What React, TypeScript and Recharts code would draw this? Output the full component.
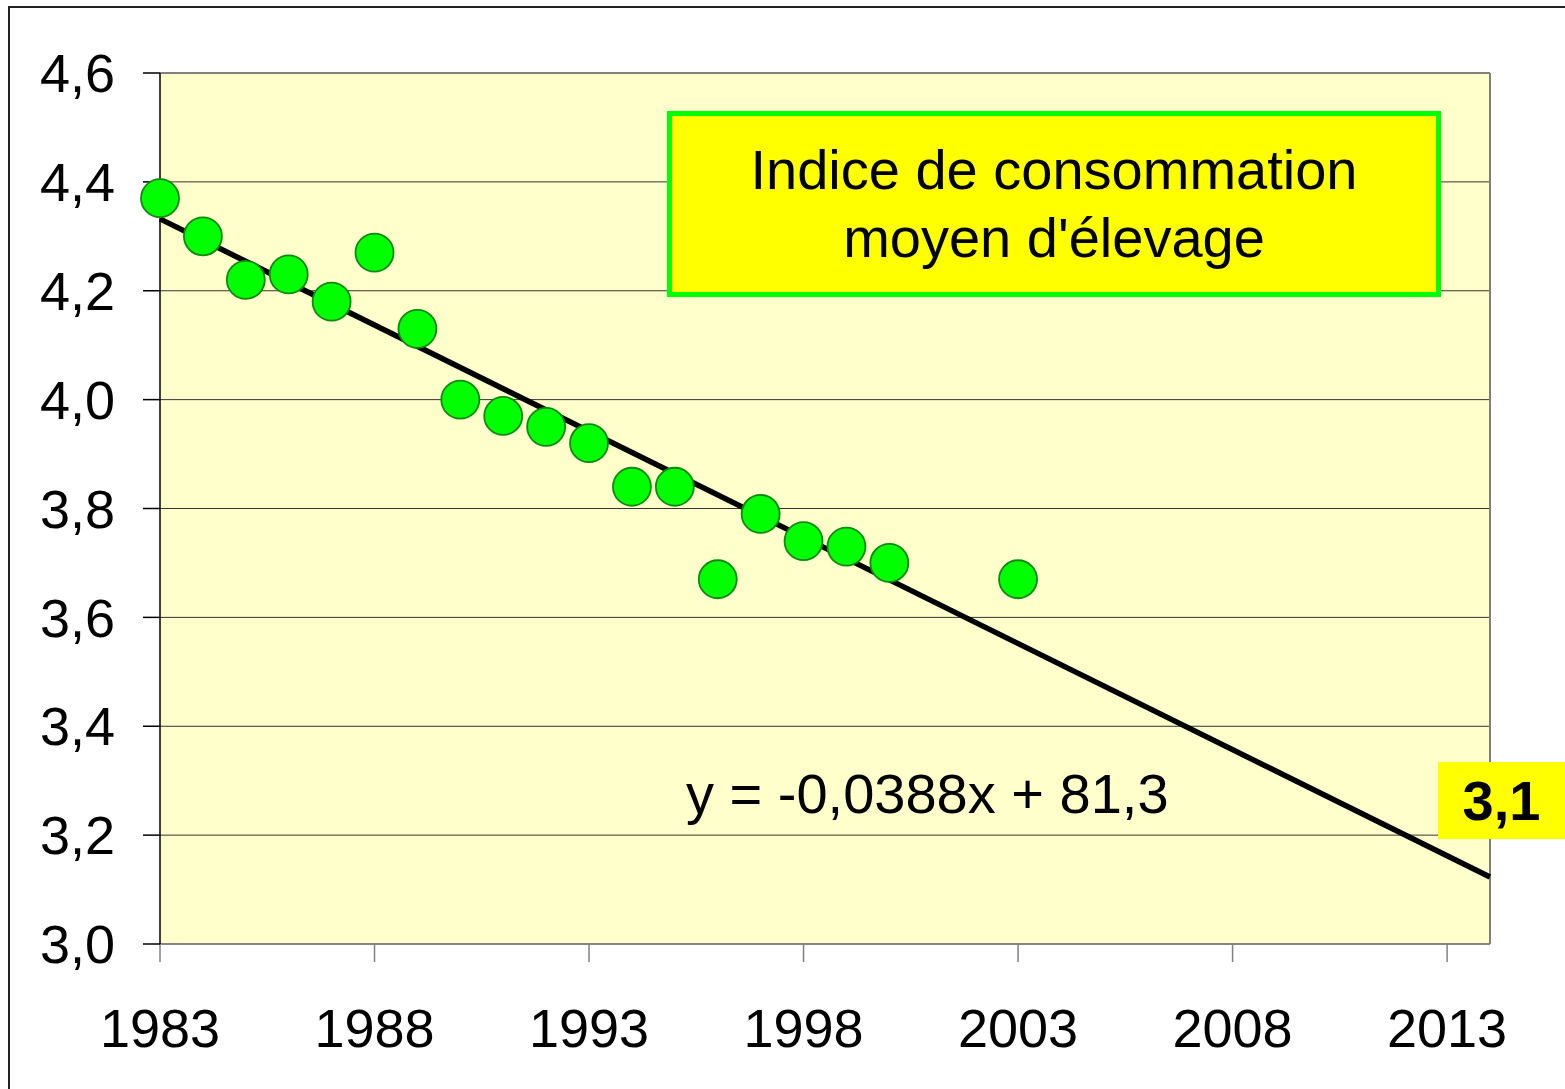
import React from 'react';
import { ComposedChart, Scatter, Line, XAxis, YAxis, CartesianGrid, ReferenceLine } from 'recharts';

// Observed yearly values
const years = [1983, 1984, 1985, 1986, 1987, 1988, 1989, 1990, 1991, 1992, 1993, 1994, 1995, 1996, 1997, 1998, 1999, 2000, 2003];
const values = [4.37, 4.3, 4.22, 4.23, 4.18, 4.27, 4.13, 4.0, 3.97, 3.95, 3.92, 3.84, 3.84, 3.67, 3.79, 3.74, 3.73, 3.7, 3.67];

// Linear trend end points (as drawn)
const trendYears = [1983, 2014];
const trendValues = [4.332, 3.123];

const xTicks = [1983, 1988, 1993, 1998, 2003, 2008, 2013];
const yTicks = [3.0, 3.2, 3.4, 3.6, 3.8, 4.0, 4.2, 4.4, 4.6];

const titleLines = ['Indice de consommation', "moyen d'élevage"];
const equationLabel = 'y = -0,0388x + 81,3';
const endLabel = '3,1';

const FONT = '"Liberation Sans", Arial, sans-serif';

const points = years.map((year, i) => ({ year, value: values[i] }));
const trend = trendYears.map((year, i) => ({ year, value: trendValues[i] }));

const fmt = (v: number) => v.toFixed(1).replace('.', ',');

const Dot = (props: any) => {
  const { cx, cy } = props;
  if (cx == null || cy == null) return null;
  return <circle cx={cx} cy={cy} r={19} fill="#00FF00" stroke="#118811" strokeWidth={1.8} />;
};

export default function App() {
  return (
    <div style={{ position: 'relative', width: 1565, height: 1089, fontFamily: FONT, overflow: 'hidden', background: '#fff' }}>
      <style>{`body{margin:0}`}</style>
      {/* outer frame */}
      <div
        style={{
          position: 'absolute',
          left: 8,
          top: 6,
          width: 1600,
          height: 1200,
          borderTop: '2px solid #222',
          borderLeft: '2px solid #222',
        }}
      />
      <ComposedChart
        width={1565}
        height={1089}
        margin={{ top: 73, right: 75, left: 0, bottom: 0 }}
        style={{ position: 'absolute', left: 0, top: 0 }}
      >
        <CartesianGrid vertical={false} fill="#FFFFCC" stroke="#333" strokeWidth={1} />
        <XAxis
          type="number"
          dataKey="year"
          domain={[1983, 2014]}
          ticks={xTicks}
          interval={0}
          height={145}
          tickSize={18}
          tickMargin={47}
          stroke="#808080"
          strokeWidth={1.5}
          tick={{ fontSize: 54, fill: '#000', fontFamily: FONT }}
        />
        <YAxis
          type="number"
          dataKey="value"
          domain={[3.0, 4.6]}
          ticks={yTicks}
          interval={0}
          width={160}
          tickSize={17}
          tickMargin={28}
          stroke="#000"
          strokeWidth={1.5}
          tickFormatter={fmt}
          tick={{ fontSize: 54, fill: '#000', fontFamily: FONT }}
        />
        <ReferenceLine x={2014} stroke="#808080" strokeWidth={2} />
        <ReferenceLine y={4.6} stroke="#808080" strokeWidth={2} />
        <Scatter data={points} dataKey="value" shape={<Dot />} isAnimationActive={false} />
        <Line
          data={trend}
          dataKey="value"
          type="linear"
          stroke="#000"
          strokeWidth={5.5}
          dot={false}
          activeDot={false}
          isAnimationActive={false}
        />
      </ComposedChart>

      {/* title box */}
      <div
        style={{
          position: 'absolute',
          left: 667,
          top: 111,
          width: 764,
          height: 176,
          background: '#FFFF00',
          border: '5px solid #00FF00',
          display: 'flex',
          flexDirection: 'column',
          alignItems: 'center',
          justifyContent: 'center',
          fontSize: 56,
          lineHeight: '68px',
          color: '#000',
        }}
      >
        {titleLines.map((t) => (
          <div key={t}>{t}</div>
        ))}
      </div>

      {/* trend equation */}
      <div style={{ position: 'absolute', left: 686, top: 762, fontSize: 56, lineHeight: '64px', color: '#000', whiteSpace: 'nowrap' }}>
        {equationLabel}
      </div>

      {/* projected value */}
      <div
        style={{
          position: 'absolute',
          left: 1438,
          top: 762,
          width: 127,
          height: 77,
          background: '#FFFF00',
          display: 'flex',
          alignItems: 'center',
          justifyContent: 'center',
          fontSize: 56,
          fontWeight: 'bold',
          color: '#000',
        }}
      >
        {endLabel}
      </div>
    </div>
  );
}
